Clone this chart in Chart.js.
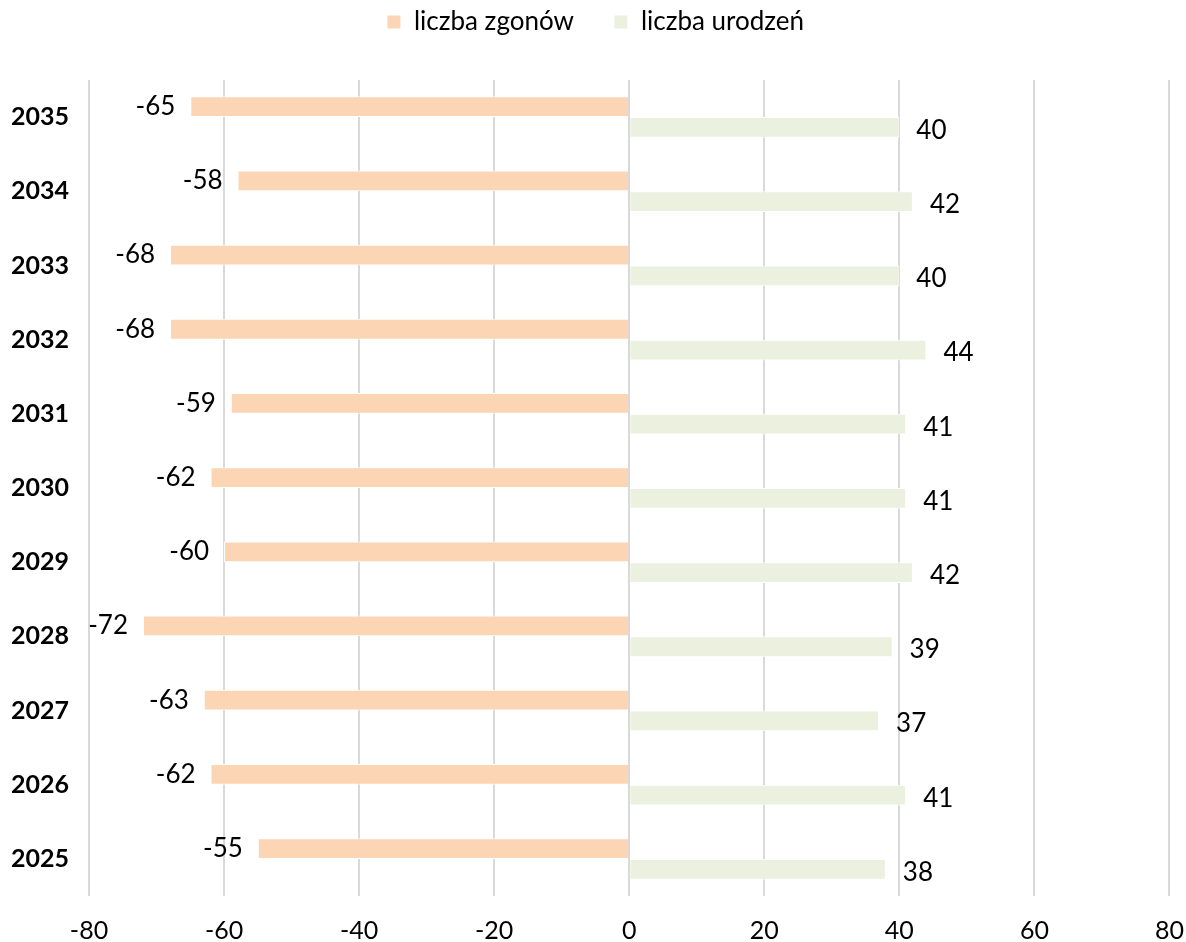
<!DOCTYPE html>
<html>
<head>
<meta charset="utf-8">
<script src="https://cdn.jsdelivr.net/npm/chart.js@4/dist/chart.umd.min.js"></script>
<style>
  html, body { margin: 0; padding: 0; background: #fff; overflow: hidden; }
  #wrap { width: 1186px; height: 942px; position: relative; }
  canvas { display: block; }
</style>
</head>
<body>
<div id="wrap"><canvas id="myBarChart"></canvas></div>
<script>
// ------------------Dane-------------------
var years = ['2035', '2034', '2033', '2032', '2031', '2030', '2029', '2028', '2027', '2026', '2025'];
var deaths = [-65, -58, -68, -68, -59, -62, -60, -72, -63, -62, -55];
var births = [40, 42, 40, 44, 41, 41, 42, 39, 37, 41, 38];
var xTicks = [-80, -60, -40, -20, 0, 20, 40, 60, 80];

var FONT = 'Lato, "Open Sans", sans-serif';

// etykiety przy końcach słupków
var barLabels = {
  id: 'barLabels',
  afterDatasetsDraw: function (chart) {
    var ctx = chart.ctx;
    ctx.save();
    ctx.font = '26px ' + FONT;
    ctx.fillStyle = '#000';
    ctx.textBaseline = 'middle';
    chart.data.datasets.forEach(function (ds, i) {
      var meta = chart.getDatasetMeta(i);
      meta.data.forEach(function (bar, j) {
        var v = ds.data[j];
        if (v < 0) {
          ctx.textAlign = 'right';
          ctx.fillText(String(v), bar.x - 15, bar.y);
        } else {
          ctx.textAlign = 'left';
          ctx.fillText(String(v), bar.x + 17, bar.y + 3);
        }
      });
    });
    ctx.restore();
  }
};

// legenda wyżej, wykres od y=80
var legendHeight = {
  id: 'legendHeight',
  beforeInit: function (chart) {
    var fitOrig = chart.legend.fit;
    chart.legend.fit = function () {
      fitOrig.bind(chart.legend)();
      this.height = 111;
    };
  }
};

var barCtx = document.getElementById('myBarChart').getContext('2d');
var myBarChart = new Chart(barCtx, {
  type: 'bar',
  data: {
    labels: years,
    datasets: [{
      label: 'liczba zgonów',
      data: deaths,
      backgroundColor: '#FCD5B5',
      borderColor: '#fff',
      borderWidth: 1,
      categoryPercentage: 0.56,
      barPercentage: 1
    }, {
      label: 'liczba urodzeń',
      data: births,
      backgroundColor: '#EBF1DE',
      borderColor: '#fff',
      borderWidth: 1,
      categoryPercentage: 0.56,
      barPercentage: 1
    }]
  },
  options: {
    indexAxis: 'y',
    responsive: true,
    maintainAspectRatio: false,
    animation: false,
    layout: { padding: { left: 5, right: 0, top: -31, bottom: 0 } },
    scales: {
      x: {
        min: -80,
        max: 80,
        afterBuildTicks: function (axis) {
          axis.ticks = xTicks.map(function (v) { return { value: v }; });
        },
        afterFit: function (axis) { axis.height = 46; },
        grid: { color: '#d9d9d9', lineWidth: 2, drawTicks: false },
        border: { display: false },
        ticks: {
          color: '#000',
          padding: 2,
          maxRotation: 0,
          font: { family: FONT, size: 25, lineHeight: '66px' }
        }
      },
      y: {
        grid: { display: false },
        border: { display: false },
        afterFit: function (axis) { axis.width = 84; },
        ticks: {
          color: '#000',
          padding: 12,
          font: { family: FONT, size: 25, weight: 'bold' }
        }
      }
    },
    plugins: {
      legend: {
        position: 'top',
        labels: {
          color: '#000',
          boxWidth: 14,
          boxHeight: 14,
          padding: 40,
          font: { family: FONT, size: 26 }
        }
      },
      tooltip: { enabled: false }
    }
  },
  plugins: [barLabels, legendHeight]
});
</script>
</body>
</html>
